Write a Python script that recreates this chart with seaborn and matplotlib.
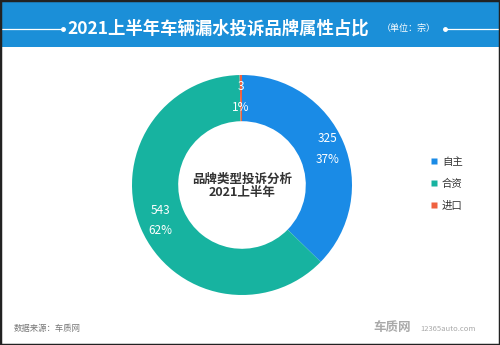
import numpy as np
import matplotlib
matplotlib.use("Agg")
import matplotlib.pyplot as plt
import seaborn as sns
from matplotlib.patches import Rectangle
from matplotlib.lines import Line2D

categories = ["自主", "合资", "进口"]
values = [325, 543, 3]
percents = ["37%", "62%", "1%"]
colors = ["#1a8be6", "#17b3a0", "#ef6140"]

sns.set_theme(style="white")
plt.rcParams['font.family'] = ['Noto Sans CJK SC', 'DejaVu Sans']

W, H = 500, 345
fig = plt.figure(figsize=(W / 100, H / 100), dpi=100)
fig.patch.set_facecolor("white")

# banner
fig.add_artist(Rectangle((0, (H - 47) / H), 1, 47 / H, transform=fig.transFigure,
                         facecolor="#1b8fd8", edgecolor="none", zorder=0))
yl = 1 - 29 / H
fig.add_artist(Line2D([0, 62 / W], [yl, yl], transform=fig.transFigure, color="white", lw=0.9))
fig.add_artist(Line2D([446 / W, 1], [yl, yl], transform=fig.transFigure, color="white", lw=0.9))
for xd in (63 / W, 445 / W):
    fig.add_artist(Line2D([xd], [yl], transform=fig.transFigure, marker="o", ms=2.5,
                          color="white", lw=0))
fig.text(67 / W, yl, "2021上半年车辆漏水投诉品牌属性占比", color="white", fontsize=12.5,
         fontweight="bold", ha="left", va="center")
fig.text(382 / W, yl, "（单位：宗）", color="white", fontsize=6.5, ha="left", va="center")

# donut
R = 110
side = 2 * R * 1.3
cx, cy = 242, 185
ax = fig.add_axes([(cx - side / 2) / W, (H - cy - side / 2) / H, side / W, side / H])
wedges, _ = ax.pie(values, colors=colors, startangle=90, counterclock=False,
                   radius=1.0, wedgeprops=dict(width=0.42, edgecolor="none"))
ax.set_xlim(-1.3, 1.3)
ax.set_ylim(-1.3, 1.3)
ax.set_aspect("equal")
ax.axis("off")

dists = [0.84, 0.81, 0.8]
for w, v, p, d in zip(wedges, values, percents, dists):
    ang = np.deg2rad((w.theta1 + w.theta2) / 2)
    x, y = d * np.cos(ang), d * np.sin(ang)
    ax.text(x, y + 0.095, str(v), color="white", fontsize=8.5, ha="center", va="center")
    ax.text(x, y - 0.095, p, color="white", fontsize=8.5, ha="center", va="center")

ax.text(0, 0.05, "品牌类型投诉分析", color="#333333", fontsize=9, fontweight="bold",
        ha="center", va="center")
ax.text(0, -0.07, "2021上半年", color="#333333", fontsize=9, fontweight="bold",
        ha="center", va="center")

# legend
handles = [Line2D([0], [0], marker="s", color="none", markerfacecolor=c, markeredgecolor="none",
                  markersize=5) for c in colors]
fig.legend(handles, categories, loc="center left", bbox_to_anchor=(421 / W, 1 - 184 / H),
           frameon=False, fontsize=7.5, handlelength=0.6, handletextpad=0.5,
           labelspacing=1.15, labelcolor="#333333")

# footer
fig.text(14 / W, 1 - 329 / H, "数据来源：车质网", color="#777777", fontsize=6, ha="left", va="center")
fig.text(373 / W, 1 - 328 / H, "车质网", color="#aaaaaa", fontsize=9, fontweight="bold",
         ha="left", va="center")
fig.text(420 / W, 1 - 329 / H, "12365auto.com", color="#aaaaaa", fontsize=5.5,
         ha="left", va="center")

# border
fig.add_artist(Rectangle((0, 0), 1, 1, transform=fig.transFigure, facecolor="none",
                         edgecolor="#222222", lw=2.5, zorder=10))

fig.savefig("out.png", dpi=100)
